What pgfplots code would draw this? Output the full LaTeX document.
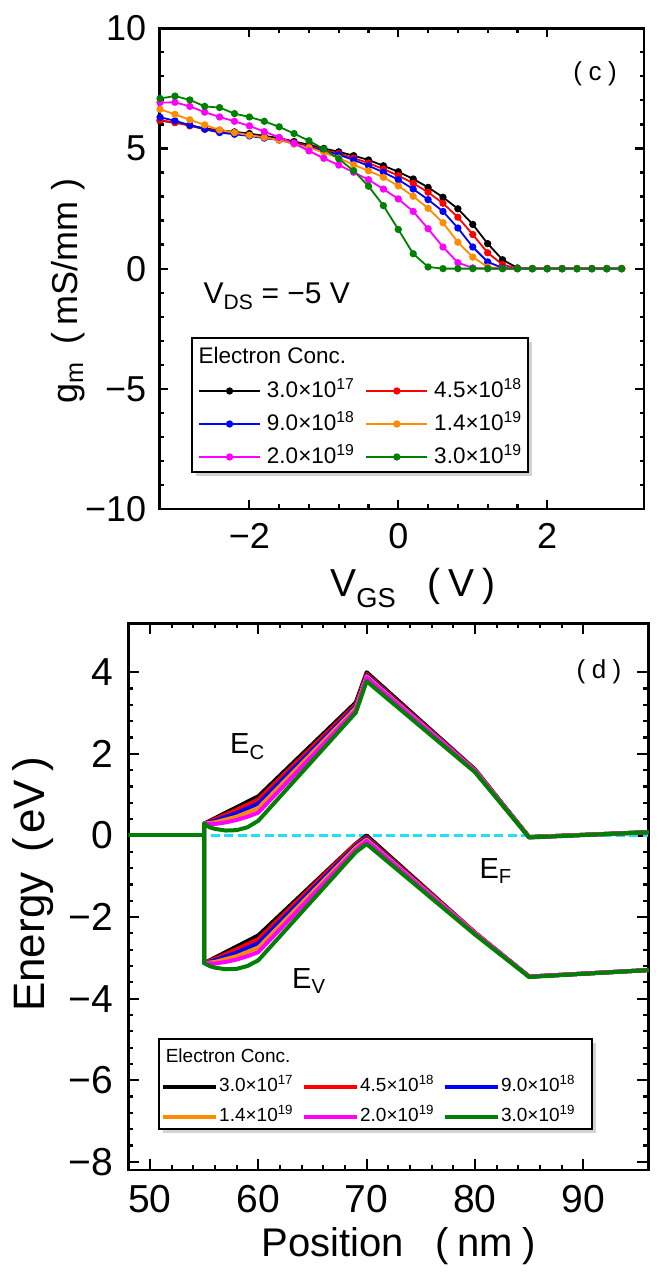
\documentclass[border=0pt]{standalone}
\usepackage{fontspec}
\setmainfont{Liberation Sans}
\usepackage{pgfplots}
\usepackage{pgfplotstable}
\pgfplotsset{compat=1.18}
\definecolor{cOr}{RGB}{255,140,0}
\definecolor{cGr}{RGB}{0,128,0}
\definecolor{cMa}{RGB}{255,0,255}
\definecolor{cCy}{RGB}{30,225,245}
\newcommand\fs[1]{\fontsize{#1bp}{#1bp}\selectfont}

\pgfplotstableread{
x k r b o m g
-3.2 6.15 6.17 6.30 6.63 6.91 7.08
-3.0 6.08 6.08 6.15 6.42 6.92 7.18
-2.8 5.97 5.94 5.97 6.19 6.75 7.02
-2.6 5.83 5.80 5.80 5.98 6.51 6.75
-2.4 5.76 5.70 5.66 5.77 6.31 6.70
-2.2 5.69 5.62 5.59 5.66 6.13 6.45
-2.0 5.62 5.55 5.52 5.55 5.94 6.31
-1.8 5.52 5.46 5.43 5.46 5.70 6.13
-1.6 5.43 5.36 5.35 5.35 5.46 5.90
-1.4 5.29 5.24 5.21 5.18 5.21 5.62
-1.2 5.15 5.10 5.07 5.04 4.90 5.32
-1.0 5.00 4.94 4.90 4.83 4.59 4.97
-0.8 4.86 4.79 4.74 4.60 4.31 4.57
-0.6 4.70 4.60 4.52 4.32 4.01 4.07
-0.4 4.52 4.39 4.28 4.07 3.70 3.43
-0.2 4.28 4.14 4.01 3.80 3.31 2.62
0.0 4.03 3.87 3.70 3.44 2.90 1.63
0.2 3.73 3.55 3.31 3.01 2.38 0.62
0.4 3.38 3.18 2.87 2.51 1.66 0.07
0.6 2.97 2.72 2.38 1.91 0.90 0
0.8 2.49 2.14 1.69 1.10 0.25 0
1.0 1.84 1.42 0.90 0.48 0.03 0
1.2 1.04 0.66 0.28 0.07 0 0
1.4 0.37 0.17 0.03 0 0 0
1.6 0.03 0 0 0 0 0
1.8 0 0 0 0 0 0
2.0 0 0 0 0 0 0
2.2 0 0 0 0 0 0
2.4 0 0 0 0 0 0
2.6 0 0 0 0 0 0
2.8 0 0 0 0 0 0
3.0 0 0 0 0 0 0
}\gm

\pgfplotsset{
  myframe/.style={
    scale only axis, anchor=south west,
    tick align=inside,
    every tick/.style={black, line width=2.2bp},
    axis line style={line width=2.8bp},
    minor x tick num=4, minor y tick num=4,
    legend cell align=left,
  },
  gmline/.style={line width=1.8bp, mark=*, mark size=2.7bp, mark options={solid}},
  bandline/.style={line width=4bp, line join=round},
}

\begin{document}
\begin{tikzpicture}[x=1bp,y=1bp]
\path[use as bounding box] (0,0) rectangle (659,1280);

% legend boxes (background + shadow)
\fill[gray!35] (195.6,804) rectangle (532.1,938.3);
\fill[white] (191.6,808) rectangle (528.1,942.3);
\fill[gray!35] (162.6,146.5) rectangle (596,237.4);
\fill[white] (158.6,150.5) rectangle (592,241.4);

% ---------------- top axis (c)
\begin{axis}[myframe,
  at={(159.3bp,771bp)}, width=484.7bp, height=480.7bp,
  xmin=-3.21, xmax=3.30, ymin=-10, ymax=10,
  xtick={-2,0,2}, xticklabels={−2,0,2},
  ytick={-10,-5,0,5,10}, yticklabels={−10,−5,0,5,10},
  major tick length=9bp, minor tick length=4.5bp,
  xticklabel style={font=\fs{36}, inner sep=0pt, yshift=-13.7bp},
  yticklabel style={font=\fs{36}, inner sep=0pt, xshift=-13bp},
  xlabel={V\textsubscript{GS}\hspace{0.8em}(\hspace{0.2em}V\hspace{0.2em})},
  xlabel style={font=\fs{39}, inner sep=0pt, anchor=base, at={([yshift=-88bp]axis description cs:0.523,0)}},
  ylabel={g\textsubscript{m}\hspace{0.5em}(\hspace{0.2em}mS/mm\hspace{0.3em})},
  ylabel style={font=\fs{36}, inner sep=0pt, anchor=base, at={([xshift=-81.3bp]axis description cs:0,0.4535)}},
  legend columns=2,
  legend style={at={(0.0798,0.2719)}, anchor=north west, draw=none, fill=none,
    inner sep=0pt, row sep=8bp, column sep=6bp, font=\fs{22.5},
    nodes={inner sep=0pt, text height=19bp, text depth=6bp},
    /tikz/every even column/.append style={column sep=11bp}},
  legend image code/.code={\draw[mark repeat=2,mark phase=2,#1] plot coordinates {(0bp,0bp) (30.5bp,0bp) (61bp,0bp)};},
]
\addplot[black, gmline] table[x=x,y=k]{\gm};
\addlegendentry{3.0×10\textsuperscript{17}}
\addplot[red, gmline] table[x=x,y=r]{\gm};
\addlegendentry{4.5×10\textsuperscript{18}}
\addplot[blue, gmline] table[x=x,y=b]{\gm};
\addlegendentry{9.0×10\textsuperscript{18}}
\addplot[cOr, gmline] table[x=x,y=o]{\gm};
\addlegendentry{1.4×10\textsuperscript{19}}
\addplot[cMa, gmline] table[x=x,y=m]{\gm};
\addlegendentry{2.0×10\textsuperscript{19}}
\addplot[cGr, gmline] table[x=x,y=g]{\gm};
\addlegendentry{3.0×10\textsuperscript{19}}
\end{axis}

% ---------------- bottom axis (d)
\begin{axis}[myframe,
  at={(128.3bp,110bp)}, width=520bp, height=546.7bp,
  xmin=48, xmax=96, ymin=-8.2, ymax=5.2,
  xtick={50,60,70,80,90}, xticklabels={50,60,70,80,90},
  ytick={-8,-6,-4,-2,0,2,4}, yticklabels={−8,−6,−4,−2,0,2,4},
  major tick length=11bp, minor tick length=5bp,
  xticklabel style={font=\fs{39}, inner sep=0pt, yshift=-15bp},
  yticklabel style={font=\fs{39}, inner sep=0pt, xshift=-15bp},
  xlabel={Position\hspace{0.8em}(\hspace{0.2em}nm\hspace{0.25em})},
  xlabel style={font=\fs{40}, inner sep=0pt, anchor=base, at={([yshift=-86.7bp]axis description cs:0.5206,0)}},
  ylabel={Energy\hspace{0.45em}(\hspace{0.1em}eV\hspace{0.2em})},
  ylabel style={font=\fs{44}, inner sep=0pt, anchor=base, at={([xshift=-83.3bp]axis description cs:0,0.523)}},
  legend columns=3,
  legend style={at={(0.0629,0.171)}, anchor=north west, draw=none, fill=none,
    inner sep=0pt, row sep=10bp, column sep=1.5bp, font=\fs{19},
    nodes={inner sep=0pt, text height=15bp, text depth=5bp},
    /tikz/every even column/.append style={column sep=9bp}},
  legend image code/.code={\draw[#1] (0bp,0bp) -- (52.5bp,0bp);},
]
\addplot[cCy, line width=3.2bp, dash pattern=on 9bp off 4.5bp, forget plot] coordinates {(55.6,0) (96,0)};
\addplot[black, bandline] coordinates {(96,-3.30) (85,-3.46) (80,-2.38) (70,0.0) (69,-0.20) (60,-2.45) (55,-3.13) (55,0.29) (60,0.96) (69,3.26) (70,4.0) (80,1.62) (85,-0.04) (96,0.08)};
\addlegendentry{3.0×10\textsuperscript{17}}
\addplot[red, bandline] coordinates {(96,-3.30) (85,-3.46) (80,-2.38) (70,-0.04) (69,-0.21) (60,-2.54) (58,-2.79) (56,-3.02) (55,-3.13) (55,0.29) (56,0.40) (58,0.63) (60,0.88) (69,3.21) (70,3.96) (80,1.61) (85,-0.04) (96,0.08)};
\addlegendentry{4.5×10\textsuperscript{18}}
\addplot[blue, bandline] coordinates {(96,-3.30) (85,-3.46) (80,-2.39) (70,-0.07) (69,-0.26) (60,-2.64) (58,-2.87) (56,-3.06) (55,-3.13) (55,0.29) (56,0.36) (58,0.55) (60,0.78) (69,3.16) (70,3.93) (80,1.60) (85,-0.04) (96,0.08)};
\addlegendentry{9.0×10\textsuperscript{18}}
\addplot[cOr, bandline] coordinates {(96,-3.30) (85,-3.46) (80,-2.39) (70,-0.10) (69,-0.30) (60,-2.75) (58,-2.96) (56,-3.10) (55,-3.13) (55,0.29) (56,0.32) (58,0.46) (60,0.67) (69,3.12) (70,3.90) (80,1.59) (85,-0.04) (96,0.08)};
\addlegendentry{1.4×10\textsuperscript{19}}
\addplot[cMa, bandline] coordinates {(96,-3.30) (85,-3.46) (80,-2.40) (70,-0.13) (69,-0.35) (60,-2.86) (59,-2.96) (58,-3.04) (57,-3.10) (56,-3.14) (55,-3.13) (55,0.29) (56,0.28) (57,0.32) (58,0.38) (59,0.46) (60,0.56) (69,3.07) (70,3.87) (80,1.58) (85,-0.05) (96,0.08)};
\addlegendentry{2.0×10\textsuperscript{19}}
\addplot[cGr, bandline] coordinates {(96,-3.30) (85,-3.47) (80,-2.43) (70,-0.21) (69,-0.41) (60,-3.06) (59,-3.20) (58,-3.27) (57,-3.28) (56,-3.24) (55.5,-3.20) (55,-3.13) (55,0.29) (55.5,0.20) (56,0.16) (57,0.12) (58,0.13) (59,0.20) (60,0.36) (69,3.01) (70,3.78) (80,1.55) (85,-0.05) (96,0.08)};
\addlegendentry{3.0×10\textsuperscript{19}}
\addplot[cGr, bandline, forget plot] coordinates {(48,0) (55,0)};
\end{axis}

% legend frames and titles
\draw[line width=2bp] (191.6,808) rectangle (528.1,942.3);
\node[anchor=base west, inner sep=0pt, font=\fs{22.5}] at (198.3,916.6) {Electron Conc.};
\draw[line width=2bp] (158.6,150.5) rectangle (592,241.4);
\node[anchor=base west, inner sep=0pt, font=\fs{19}] at (165.6,217) {Electron Conc.};

% annotations
\node[inner sep=0pt, font=\fs{26}] at (595,1206) {(\hspace{0.25em}c\hspace{0.25em})};
\node[anchor=base west, inner sep=0pt, font=\fs{30}] at (203.4,976.6) {V\textsubscript{DS} = −5 V};
\node[inner sep=0pt, font=\fs{26}] at (599,608.5) {(\hspace{0.25em}d\hspace{0.25em})};
\node[anchor=base west, inner sep=0pt, font=\fs{29}] at (230,526.1) {E\textsubscript{C}};
\node[anchor=base west, inner sep=0pt, font=\fs{29}] at (292,291.5) {E\textsubscript{V}};
\node[anchor=base west, inner sep=0pt, font=\fs{29}] at (479.4,401.5) {E\textsubscript{F}};
\end{tikzpicture}
\end{document}
